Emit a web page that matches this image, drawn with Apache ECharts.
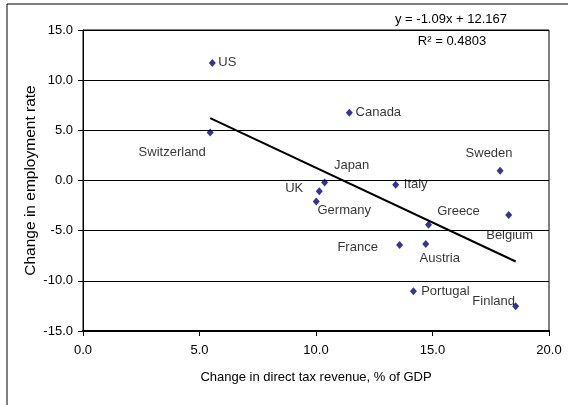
<!DOCTYPE html>
<html>
<head>
<meta charset="utf-8">
<script src="https://cdn.jsdelivr.net/npm/echarts@6/dist/echarts.min.js"></script>
<style>
html,body{margin:0;padding:0;background:#fff;}
#chart{width:568px;height:405px;}
</style>
</head>
<body>
<div id="chart"></div>
<script>
// ---- data ----
var countries = ['US','Canada','Switzerland','Sweden','Japan','UK','Germany','Italy','Belgium','Greece','France','Austria','Portugal','Finland'];
var taxChange = [5.55, 11.43, 5.46, 17.90, 10.37, 10.14, 10.01, 13.42, 18.27, 14.83, 13.59, 14.71, 14.18, 18.57];
var employmentChange = [11.72, 6.76, 4.79, 0.97, -0.20, -1.06, -2.10, -0.43, -3.45, -4.42, -6.42, -6.32, -11.04, -12.54];
var trendSlope = -1.09;
var trendIntercept = 12.167;
var equationText = 'y = -1.09x + 12.167';
var rSquaredText = 'R\u00B2 = 0.4803';
var xTicks = [0, 5, 10, 15, 20];
var yTicks = [-15, -10, -5, 0, 5, 10, 15];

// ---- label styling (offsets in px, relative to the marker) ----
var labelOffsets = [[15,0],[29,0],[-38,20],[-11,-17],[27,-17],[-25,-3],[28,9],[20,0],[1,20],[30,-13],[-42,3],[14,15],[32,0],[-22,-5]];

var FONT = "'Liberation Sans', Arial, sans-serif";
var chart = echarts.init(document.getElementById('chart'), null, {renderer:'canvas'});

var pts = countries.map(function(c, i){
  return {
    name: c,
    value: [taxChange[i], employmentChange[i]],
    label: {show:true, position:'inside', offset: labelOffsets[i], formatter: c}
  };
});
var xMin = Math.min.apply(null, taxChange), xMax = Math.max.apply(null, taxChange);
var trend = [[xMin, trendSlope*xMin + trendIntercept],[xMax, trendSlope*xMax + trendIntercept]];

chart.setOption({
  animation:false,
  backgroundColor:'#fff',
  textStyle:{fontFamily:FONT},
  grid:{left:83, right:19, top:30, bottom:74, show:true, borderColor:'#000', borderWidth:1, backgroundColor:'transparent'},
  xAxis:{
    type:'value', min:xTicks[0], max:xTicks[xTicks.length-1], interval:5,
    name:'Change in direct tax revenue, % of GDP', nameLocation:'middle', nameGap:40,
    nameTextStyle:{fontFamily:FONT, fontSize:13, color:'#000'},
    axisLine:{show:true, onZero:false, lineStyle:{color:'#000', width:2}},
    axisTick:{show:true, length:5, lineStyle:{color:'#000'}},
    axisLabel:{fontFamily:FONT, fontSize:13, color:'#000', margin:13, formatter:function(v){return v.toFixed(1);}},
    splitLine:{show:false}
  },
  yAxis:{
    type:'value', min:yTicks[0], max:yTicks[yTicks.length-1], interval:5,
    name:'Change in employment rate', nameLocation:'middle', nameGap:44, nameMoveOverlap:false,
    nameTextStyle:{fontFamily:FONT, fontSize:15.5, color:'#000'},
    axisLine:{show:true, onZero:false, lineStyle:{color:'#000', width:1}},
    axisTick:{show:true, length:5, lineStyle:{color:'#000'}},
    axisLabel:{fontFamily:FONT, fontSize:13, color:'#000', margin:10, formatter:function(v){return v.toFixed(1);}},
    splitLine:{show:true, lineStyle:{color:'#000', width:1}}
  },
  series:[
    {
      type:'line', data:trend, symbol:'none', silent:true,
      lineStyle:{color:'#000', width:2}, z:2
    },
    {
      type:'scatter', data:pts, symbol:'diamond', symbolSize:[7,8],
      itemStyle:{color:'#000080'},
      label:{color:'#000', fontFamily:FONT, fontSize:13},
      z:3
    }
  ],
  graphic:[
    {type:'rect', shape:{x:7, y:4, width:700, height:600}, style:{fill:'none', stroke:'#000', lineWidth:1}, silent:true},
    {type:'text', x:451, y:19, style:{text:equationText, font:'13px '+FONT, fill:'#000', textAlign:'center', textVerticalAlign:'middle'}},
    {type:'text', x:452, y:41, style:{text:rSquaredText, font:'13px '+FONT, fill:'#000', textAlign:'center', textVerticalAlign:'middle'}}
  ]
});
</script>
</body>
</html>
